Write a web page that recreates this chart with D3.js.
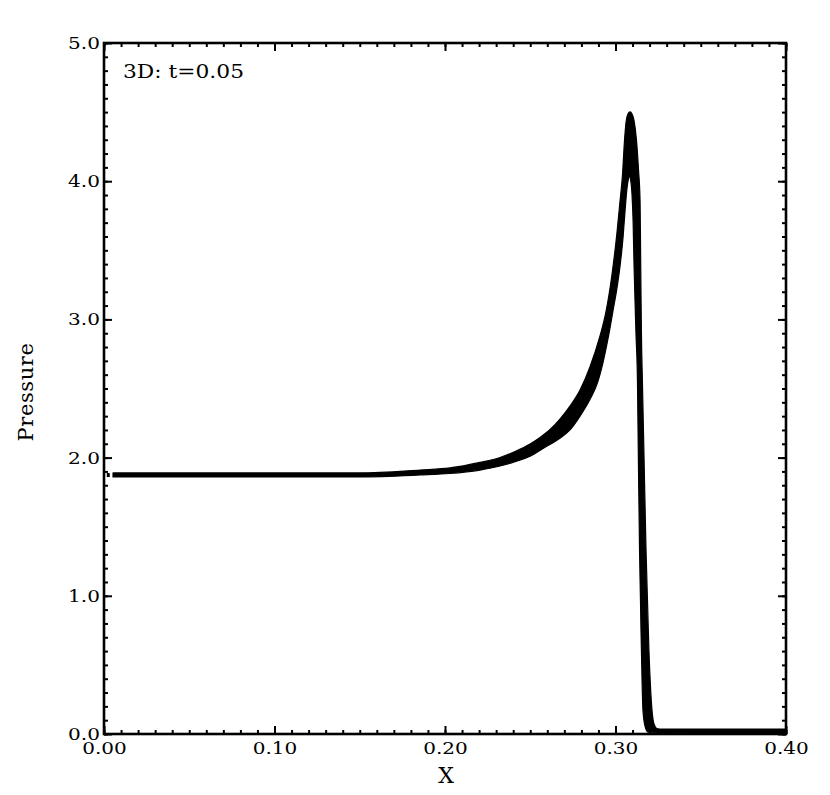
<!DOCTYPE html>
<html><head><meta charset="utf-8">
<script src="https://cdn.jsdelivr.net/npm/d3@7"></script>
<style>body{margin:0;background:#fff}</style>
</head><body><svg id="c" width="830" height="795"></svg>
<script>
// Outer (upper) envelope of the scattered pressure band
const upperX = [0.0053, 0.1501, 0.1853, 0.2029, 0.2205, 0.2323, 0.2411, 0.2499, 0.2557, 0.2616, 0.2674, 0.2733, 0.2792, 0.2850, 0.2909, 0.2944, 0.2979, 0.3009, 0.3026, 0.3041, 0.3053, 0.3062, 0.3073, 0.3085, 0.3097, 0.3109, 0.3123, 0.3135, 0.3144, 0.3148, 0.3152, 0.3158, 0.3167, 0.3179, 0.3196, 0.3214, 0.3226, 0.3243, 0.3273, 0.400];
const upperP = [1.889, 1.889, 1.910, 1.925, 1.965, 2.001, 2.044, 2.098, 2.145, 2.203, 2.279, 2.373, 2.489, 2.656, 2.880, 3.054, 3.321, 3.632, 3.849, 4.045, 4.298, 4.428, 4.486, 4.501, 4.486, 4.436, 4.298, 4.081, 3.864, 3.379, 2.902, 2.540, 2.019, 1.331, 0.608, 0.174, 0.072, 0.040, 0.036, 0.036];
// Inner (lower) envelope
const lowerX = [0.0053, 0.1501, 0.1853, 0.2029, 0.2205, 0.2323, 0.2411, 0.2499, 0.2587, 0.2674, 0.2733, 0.2792, 0.2850, 0.2891, 0.2927, 0.2956, 0.2985, 0.3009, 0.3026, 0.3044, 0.3056, 0.3067, 0.3076, 0.3082, 0.3088, 0.3097, 0.3103, 0.3109, 0.3120, 0.3129, 0.3134, 0.3141, 0.3152, 0.3161, 0.3173, 0.3191, 0.400];
const lowerP = [1.860, 1.860, 1.874, 1.885, 1.910, 1.939, 1.970, 2.010, 2.075, 2.140, 2.200, 2.300, 2.420, 2.530, 2.690, 2.860, 3.060, 3.230, 3.380, 3.590, 3.785, 3.944, 4.016, 4.038, 4.016, 3.900, 3.719, 3.379, 2.902, 2.540, 2.019, 1.331, 0.608, 0.174, 0.058, 0.014, 0.000];
// a stray point near the left boundary
const strayX = [0.0025];
const strayP = [1.874];

const xTicks = [0.0, 0.1, 0.2, 0.3, 0.4];
const xTickLabels = ["0.00", "0.10", "0.20", "0.30", "0.40"];
const yTicks = [0, 1, 2, 3, 4, 5];
const yTickLabels = ["0.0", "1.0", "2.0", "3.0", "4.0", "5.0"];
const titleText = "3D: t=0.05";
const xLabel = "X";
const yLabel = "Pressure";

const L = 104, R = 786, T = 43, B = 734;
const svg = d3.select("#c");
const x = d3.scaleLinear().domain([0, 0.4]).range([L, R]);
const y = d3.scaleLinear().domain([0, 5]).range([B, T]);
const font = "'DejaVu Serif', serif";

// band polygon (two smooth envelopes joined)
const upper = upperX.map((v, i) => [v, upperP[i]]);
const lower = lowerX.map((v, i) => [v, lowerP[i]]).reverse();
const line = d3.line().x(d => x(d[0])).y(d => y(d[1])).curve(d3.curveMonotoneX);
const dPath = line(upper) + line(lower).replace(/^M/, "L") + "Z";
svg.append("path").attr("d", dPath)
  .attr("fill", "#000").attr("stroke", "#000").attr("stroke-width", 1.2).attr("stroke-linejoin", "round");
svg.selectAll("rect.stray").data(strayX).enter().append("rect")
  .attr("x", d => x(d) - 1.5).attr("y", (d, i) => y(strayP[i]) - 2)
  .attr("width", 3).attr("height", 4).attr("fill", "#000");

// axes (inward ticks on all four sides)
function styleAxis(g) {
  g.select(".domain").remove();
  g.selectAll(".tick line").attr("stroke", "#000").attr("stroke-width", 2);
}
const xMinor = x.ticks(40);
const yMinor = y.ticks(50);
const noLbl = () => "";
svg.append("g").attr("transform", `translate(0,${B})`)
  .call(d3.axisBottom(x).tickValues(xMinor).tickSize(-4).tickFormat(noLbl)).call(styleAxis);
svg.append("g").attr("transform", `translate(0,${B})`)
  .call(d3.axisBottom(x).tickValues(xTicks).tickSize(-8).tickPadding(8)
    .tickFormat((d, i) => xTickLabels[i])).call(styleAxis);
svg.append("g").attr("transform", `translate(0,${T})`)
  .call(d3.axisTop(x).tickValues(xMinor).tickSize(-4).tickFormat(noLbl)).call(styleAxis);
svg.append("g").attr("transform", `translate(0,${T})`)
  .call(d3.axisTop(x).tickValues(xTicks).tickSize(-8).tickFormat(noLbl)).call(styleAxis);
svg.append("g").attr("transform", `translate(${L},0)`)
  .call(d3.axisLeft(y).tickValues(yMinor).tickSize(-4).tickFormat(noLbl)).call(styleAxis);
svg.append("g").attr("transform", `translate(${L},0)`)
  .call(d3.axisLeft(y).tickValues(yTicks).tickSize(-8).tickPadding(4)
    .tickFormat((d, i) => yTickLabels[i])).call(styleAxis);
svg.append("g").attr("transform", `translate(${R},0)`)
  .call(d3.axisRight(y).tickValues(yMinor).tickSize(-4).tickFormat(noLbl)).call(styleAxis);
svg.append("g").attr("transform", `translate(${R},0)`)
  .call(d3.axisRight(y).tickValues(yTicks).tickSize(-8).tickFormat(noLbl)).call(styleAxis);

// wide serif tick labels
svg.selectAll(".tick text").filter(function () { return this.textContent.length > 0; })
  .attr("font-family", font).attr("font-size", 17).attr("fill", "#000")
  .attr("lengthAdjust", "spacingAndGlyphs")
  .attr("textLength", function () {
    const t = this.textContent;
    const dots = (t.match(/\./g) || []).length;
    return (t.length - dots) * 12.7 + dots * 6.5;
  });

// frame
svg.append("rect").attr("x", L).attr("y", T).attr("width", R - L).attr("height", B - T)
  .attr("fill", "none").attr("stroke", "#000").attr("stroke-width", 2.6);

// texts
svg.append("text").attr("x", 123).attr("y", 78).attr("font-family", font)
  .attr("font-size", 18).attr("lengthAdjust", "spacingAndGlyphs").attr("textLength", 121).text(titleText);
svg.append("text").attr("x", (L + R) / 2 + 1).attr("y", 783).attr("text-anchor", "middle")
  .attr("font-family", font).attr("font-size", 22).text(xLabel);
svg.append("text").attr("transform", "translate(33,392) rotate(-90)").attr("text-anchor", "middle")
  .attr("font-family", font).attr("font-size", 21).attr("letter-spacing", 0.6).text(yLabel);
</script></body></html>
